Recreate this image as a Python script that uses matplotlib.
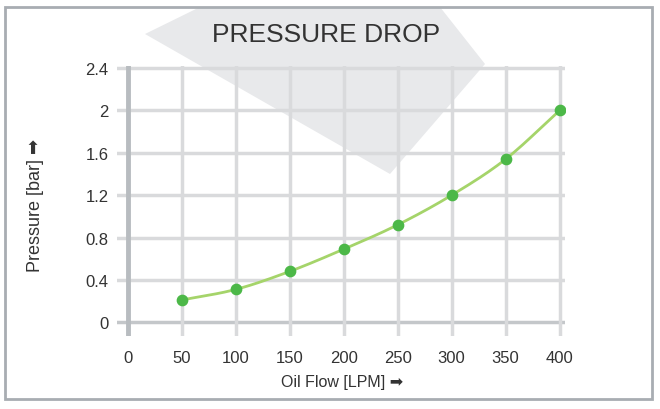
import numpy as np
import matplotlib
matplotlib.use("Agg")
import matplotlib.pyplot as plt
from matplotlib.patches import Polygon, Rectangle

flow = [50, 100, 150, 200, 250, 300, 350, 400]
pressure = [0.21, 0.31, 0.48, 0.69, 0.92, 1.20, 1.54, 2.00]
xticks = [0, 50, 100, 150, 200, 250, 300, 350, 400]
yticks = [0, 0.4, 0.8, 1.2, 1.6, 2.0, 2.4]
ytick_labels = ["0", "0.4", "0.8", "1.2", "1.6", "2", "2.4"]

plt.rcParams['font.family'] = ['Liberation Sans', 'DejaVu Sans']
fig = plt.figure(figsize=(6.6, 4.1), dpi=100)
W, H = 660, 410
def fc(x, y):
    return (x / W, 1 - y / H)

fig.patches.append(Rectangle(fc(5, 400), 647 / W, 392 / H, transform=fig.transFigure,
                             fill=False, edgecolor='#a8adb2', lw=2))

ax = fig.add_axes([117 / W, 1 - 337 / H, (565 - 117) / W, (337 - 67) / H])
ax.patch.set_alpha(0)
ax.set_xlim(-10, 405)
ax.set_ylim(-0.13, 2.42)
ax.add_patch(Polygon([fc(200, 8), fc(145, 35), fc(390, 175), fc(485, 65), fc(440, 8)],
                     closed=True, transform=fig.transFigure, clip_on=False,
                     facecolor='#e8e9eb', edgecolor='none', zorder=0))
for s in ax.spines.values():
    s.set_visible(False)
gc = '#d9dadc'
for y in yticks:
    ax.plot([-10, 405], [y, y], color=gc if y > 0 else '#c4c7ca', lw=2.5, zorder=1)
for x in xticks[1:]:
    ax.plot([x, x], [-0.13, 2.42], color=gc, lw=2.5, zorder=1)
ax.plot([0, 0], [-0.13, 2.42], color='#b8bcc0', lw=3.5, zorder=2)

# smooth curve (Catmull-Rom through the points)
P = np.array(list(zip(flow, pressure)), dtype=float)
Pe = np.vstack([2 * P[0] - P[1], P, 2 * P[-1] - P[-2]])
cx, cy = [], []
t = np.linspace(0, 1, 20)
for i in range(1, len(Pe) - 2):
    p0, p1, p2, p3 = Pe[i - 1], Pe[i], Pe[i + 1], Pe[i + 2]
    for tt in t:
        pt = 0.5 * ((2 * p1) + (-p0 + p2) * tt + (2 * p0 - 5 * p1 + 4 * p2 - p3) * tt ** 2
                    + (-p0 + 3 * p1 - 3 * p2 + p3) * tt ** 3)
        cx.append(pt[0]); cy.append(pt[1])
ax.plot(cx, cy, color='#a5d46a', lw=2, zorder=3)
ax.scatter(flow, pressure, s=55, color='#4cb848', zorder=4)

ax.set_xticks(xticks)
ax.set_yticks(yticks)
ax.set_yticklabels(ytick_labels)
ax.tick_params(length=0, labelsize=12, colors='#333333', pad=6)
ax.tick_params(axis='x', pad=10)

fig.text(326 / W, 1 - 35 / H, "PRESSURE DROP", ha='center', va='center', fontsize=19, color='#333333')
fig.text(36 / W, 1 - 205 / H, "Pressure [bar] \u27a1", rotation=90, ha='center', va='center',
         fontsize=13, color='#333333', family=['Liberation Sans', 'DejaVu Sans'])
fig.text(342 / W, 1 - 383 / H, "Oil Flow [LPM] \u27a1", ha='center', va='center',
         fontsize=11.5, color='#333333', family=['Liberation Sans', 'DejaVu Sans'])
fig.savefig("out.png", dpi=100)
